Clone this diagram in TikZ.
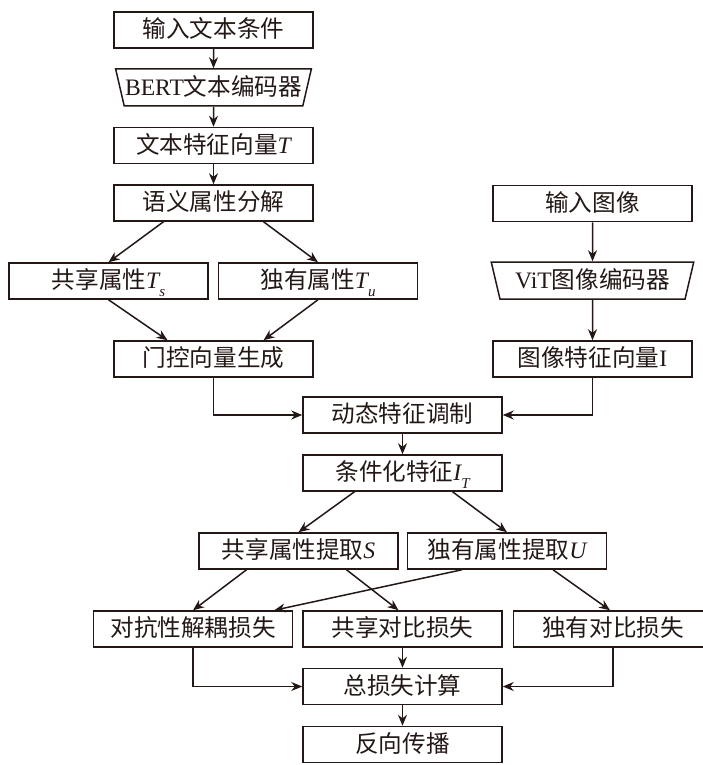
\documentclass[tikz,border=0pt]{standalone}
\usepackage{fontspec}
\setmainfont{Liberation Serif}
\newfontfamily\zhfont{Noto Sans CJK SC}
\usetikzlibrary{shapes.geometric,arrows.meta}
\definecolor{inkc}{RGB}{35,24,21}
\newcommand\lowsub[1]{\raisebox{-0.32em}{\fontsize{7.5}{8}\selectfont\rmfamily\itshape #1}}

\begin{document}
\begin{tikzpicture}[x=0.5pt, y=-0.5pt, line width=0.75pt, color=inkc,
    box/.style={draw, rectangle, minimum width=99.5pt, minimum height=18pt, inner sep=0pt,
        font=\zhfont\fontsize{11.8}{14}\selectfont, text height=0.88em, text depth=0.12em},
    coder/.style={box, trapezium, shape border rotate=180, trapezium stretches=true,
        trapezium angle=67, minimum height=18.5pt},
    flow/.style={-{Stealth[length=5.5pt, width=4.5pt]}}]
    \useasboundingbox (0,0) rectangle (702,765);

    \node[box] (intext) at (213.5,30) {输入文本条件};
    \node[coder, minimum width=98pt] (bert) at (213.5,87.5) {{\rmfamily BERT}文本编码器};
    \node[box] (featt) at (213.5,145.5) {文本特征向量{\rmfamily\itshape T}};
    \node[box] (decomp) at (213.5,203) {语义属性分解};
    \node[box] (ts) at (108.5,281) {共享属性{\rmfamily\itshape T}\lowsub{s}};
    \node[box] (tu) at (318,281) {独有属性{\rmfamily\itshape T}\lowsub{u}};
    \node[box] (gate) at (213.5,359) {门控向量生成};

    \node[box] (inimg) at (592.5,203.5) {输入图像};
    \node[coder, minimum width=101.5pt, trapezium angle=70] (vit) at (592.5,280.5) {{\rmfamily ViT}图像编码器};
    \node[box] (feati) at (592.5,359) {图像特征向量{\rmfamily I}};

    \node[box] (modul) at (402.5,415) {动态特征调制};
    \node[box] (cond) at (402.5,473) {条件化特征{\rmfamily\itshape I}\lowsub{T}};
    \node[box] (exts) at (298.5,551) {共享属性提取{\rmfamily\itshape S}};
    \node[box] (extu) at (507,551) {独有属性提取{\rmfamily\itshape U}};
    \node[box] (adv) at (193,629) {对抗性解耦损失};
    \node[box] (shcon) at (402.5,629) {共享对比损失};
    \node[box] (uncon) at (613,629) {独有对比损失};
    \node[box] (total) at (402.5,686.5) {总损失计算};
    \node[box] (back) at (402.5,744.5) {反向传播};

    \draw[flow] (intext) -- (bert);
    \draw[flow] (bert) -- (featt);
    \draw[flow] (featt) -- (decomp);
    \draw[flow] ([xshift=-25pt]decomp.south) -- (ts.north);
    \draw[flow] ([xshift=25pt]decomp.south) -- (tu.north);
    \draw[flow] (ts.south) -- ([xshift=-23pt]gate.north);
    \draw[flow] (tu.south) -- ([xshift=25pt]gate.north);
    \draw[flow] (inimg) -- (vit);
    \draw[flow] (vit) -- (feati);
    \draw[flow] (gate.south) |- (modul.west);
    \draw[flow] (feati.south) |- (modul.east);
    \draw[flow] (modul) -- (cond);
    \draw[flow] ([xshift=-24pt]cond.south) -- (exts.north);
    \draw[flow] ([xshift=25pt]cond.south) -- (extu.north);
    \draw[flow] ([xshift=-26pt]exts.south) -- (adv.north);
    \draw[flow] ([xshift=24pt]exts.south) -- ([xshift=-2pt]shcon.north);
    \draw[flow] ([xshift=-22.5pt]extu.south) -- ([xshift=-9.5pt]adv.north east);
    \draw[flow] ([xshift=23pt]extu.south) -- ([xshift=-1.5pt]uncon.north);
    \draw[flow] (shcon) -- (total);
    \draw[flow] (adv.south) |- (total.west);
    \draw[flow] (uncon.south) |- (total.east);
    \draw[flow] (total) -- (back);
\end{tikzpicture}
\end{document}
